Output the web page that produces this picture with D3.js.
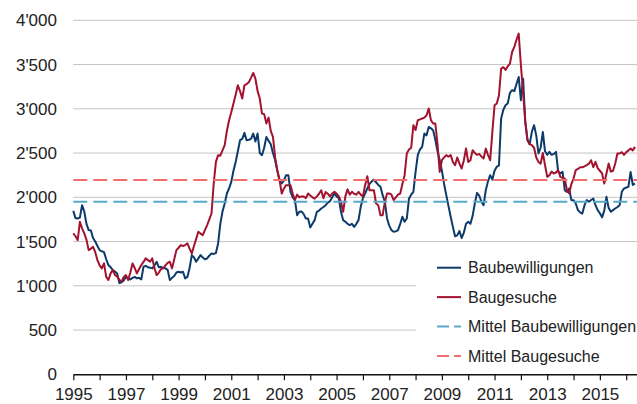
<!DOCTYPE html>
<html>
<head>
<meta charset="utf-8">
<script src="https://cdn.jsdelivr.net/npm/d3@7/dist/d3.min.js"></script>
<style>
    body { margin: 0; background: #fff; }
    svg { display: block; font-family: "Liberation Sans", Arial, sans-serif; }
    .tick-label { fill: #222; font-size: 17px; }
    .legend-label { fill: #222; font-size: 16px; }
</style>
</head>
<body>
<div id="chart-area"></div>
<script>
// monthly values from Jan 1995, one line per year
const baubewilligungen = [
    1847, 1765, 1760, 1770, 1911, 1840, 1700, 1630, 1625, 1540, 1500, 1450,
    1403, 1390, 1380, 1300, 1234, 1210, 1178, 1160, 1140, 1030, 1040, 1060,
    1102, 1085, 1072, 1090, 1100, 1084, 1090, 1072, 1215, 1226, 1210, 1205,
    1197, 1230, 1271, 1209, 1215, 1200, 1197, 1180, 1065, 1090, 1110, 1150,
    1159, 1150, 1159, 1084, 1100, 1200, 1347, 1320, 1271, 1310, 1347, 1320,
    1300, 1309, 1340, 1366, 1360, 1370, 1479, 1700, 1840, 1930, 2043, 2100,
    2174, 2300, 2400, 2520, 2645, 2660, 2728, 2645, 2650, 2660, 2720, 2630,
    2720, 2500, 2476, 2560, 2682, 2640, 2600, 2500, 2419, 2300, 2193, 2156,
    2190, 2250, 2250, 2060, 2000, 1967, 1798, 1836, 1840, 1810, 1760, 1760,
    1659, 1700, 1742, 1836, 1850, 1873, 1890, 1911, 1940, 1956, 2000, 2043,
    2010, 1990, 1836, 1742, 1723, 1700, 1686, 1700, 1666, 1700, 1742, 1892,
    1990, 2043, 2100, 2150, 2180, 2200, 2170, 2140, 2118, 2024, 1950, 1761,
    1680, 1629, 1610, 1615, 1629, 1700, 1780, 1723, 1760, 1987, 2030, 2062,
    2287, 2476, 2540, 2570, 2720, 2700, 2795, 2780, 2757, 2650, 2520, 2419,
    2300, 2150, 2024, 1900, 1780, 1666, 1560, 1570, 1620, 1540, 1600, 1700,
    1723, 1700, 1790, 1930, 2050, 2020, 1950, 1911, 2080, 2180, 2250, 2200,
    2300, 2344, 2360, 2890, 2990, 3040, 3060, 3180, 3210, 3200, 3280, 3360,
    3097, 3341, 2853, 2650, 2600, 2740, 2815, 2700, 2495, 2560, 2739, 2520,
    2480, 2513, 2480, 2490, 2513, 2287, 2270, 2287, 2080, 2060, 2100, 1968,
    1968, 1930, 1855, 1830, 1817, 1911, 1968, 1950, 1970, 1987, 1911, 1855,
    1820, 1773, 1850, 2005, 1880, 1836, 1855, 1873, 1890, 1911, 2062, 2100,
    2110, 2118, 2287, 2140, 2156
];

const baugesuche = [
    1592, 1560, 1517, 1723, 1650, 1592, 1520, 1403, 1420, 1440, 1380, 1290,
    1230, 1197, 1253, 1100, 1065, 1140, 1178, 1120, 1103, 1070, 1046, 1100,
    1121, 1065, 1150, 1253, 1200, 1140, 1190, 1234, 1270, 1310, 1290, 1272,
    1310, 1200, 1121, 1150, 1190, 1197, 1230, 1260, 1272, 1197, 1300, 1403,
    1430, 1460, 1450, 1460, 1480, 1420, 1366, 1450, 1530, 1610, 1590, 1573,
    1630, 1686, 1750, 1817, 2156, 2400, 2476, 2470, 2530, 2589, 2750, 2871,
    2960, 3059, 3160, 3266, 3200, 3116, 3266, 3280, 3300, 3350, 3405, 3340,
    3200, 3116, 2946, 2940, 2834, 2900, 2750, 2682, 2450, 2300, 2193, 2043,
    2100, 2137, 2137, 2137, 2043, 1968, 2030, 2000, 2010, 2010, 1990, 2043,
    2020, 2000, 1985, 2010, 2040, 2080, 1990, 2060, 2040, 2010, 2043, 2062,
    2040, 2010, 1950, 1836, 2010, 2090, 2030, 2062, 2040, 2030, 2062, 2030,
    2010, 2137, 2238, 2080, 2080, 2080, 1930, 1911, 1798, 1798, 1948, 2043,
    2043, 2030, 1968, 2000, 2030, 2043, 2150, 2250, 2495, 2540, 2560, 2815,
    2760, 2871, 2880, 2890, 2900, 2927, 3003, 2871, 2834, 2834, 2600, 2287,
    2419, 2450, 2476, 2460, 2476, 2400, 2363, 2450, 2380, 2325, 2419, 2551,
    2400, 2419, 2532, 2500, 2480, 2490, 2460, 2438, 2550, 2480, 2419, 2739,
    3040, 3060, 3150, 3454, 3470, 3440, 3480, 3511, 3642, 3700, 3780, 3850,
    3492, 3191, 2853, 2645, 2600, 2589, 2560, 2450, 2400, 2380, 2500, 2363,
    2231, 2250, 2290, 2269, 2280, 2306, 2230, 2220, 2210, 2080, 2043, 2150,
    2212, 2306, 2320, 2340, 2340, 2350, 2363, 2380, 2419, 2340, 2400, 2330,
    2300, 2269, 2156, 2269, 2382, 2290, 2300, 2382, 2495, 2495, 2510, 2480,
    2510, 2530, 2551, 2530, 2570
];

const mittelBaubewilligungen = 1950;
const mittelBaugesuche = 2195;

const yTicks = [0, 500, 1000, 1500, 2000, 2500, 3000, 3500, 4000];
const yearTicks = d3.range(1995, 2017);
const legendItems = ["Baubewilligungen", "Baugesuche", "Mittel Baubewilligungen", "Mittel Baugesuche"];

const colors = {
    bewilligungen: "#0c3b6b",
    gesuche: "#a3122f",
    mittelBew: "#5aa9c9",
    mittelGes: "#ef6f6c"
};

function drawChart() {
    const width = 637, height = 404;
    const margin = { top: 20.3, right: 0, bottom: 29.7, left: 73.3 };

    const svg = d3.select('#chart-area').append('svg')
        .attr('width', width)
        .attr('height', height);

    const x = d3.scaleLinear().domain([1995, 2016.41]).range([margin.left, width - margin.right]);
    const y = d3.scaleLinear().domain([0, 4000]).range([height - margin.bottom, margin.top]);

    // gridlines
    svg.selectAll('.grid')
        .data(yTicks.filter(d => d > 0))
        .enter().append('line')
        .attr('class', 'grid')
        .attr('x1', margin.left)
        .attr('x2', width - margin.right)
        .attr('y1', d => y(d))
        .attr('y2', d => y(d))
        .attr('stroke', '#c4c4c4')
        .attr('stroke-width', 1);

    // y labels
    svg.selectAll('.y-label')
        .data(yTicks)
        .enter().append('text')
        .attr('class', 'tick-label')
        .attr('x', 57)
        .attr('y', d => y(d))
        .attr('dy', '.35em')
        .attr('text-anchor', 'end')
        .text(d => d3.format(',')(d).replace(',', "'"));

    // legend background hides the lower gridlines
    svg.append('rect')
        .attr('x', 416)
        .attr('y', 248)
        .attr('width', width - 416)
        .attr('height', 122)
        .attr('fill', '#fff');

    const line = d3.line()
        .x((d, i) => x(1995 + i / 12))
        .y(d => y(d));

    svg.append('path')
        .datum(baubewilligungen)
        .attr('fill', 'none')
        .attr('stroke', colors.bewilligungen)
        .attr('stroke-width', 2)
        .attr('stroke-linejoin', 'round')
        .attr('d', line);

    svg.append('path')
        .datum(baugesuche)
        .attr('fill', 'none')
        .attr('stroke', colors.gesuche)
        .attr('stroke-width', 2)
        .attr('stroke-linejoin', 'round')
        .attr('d', line);

    // mean lines
    [[mittelBaubewilligungen, colors.mittelBew], [mittelBaugesuche, colors.mittelGes]].forEach(([v, c]) => {
        svg.append('line')
            .attr('x1', margin.left)
            .attr('x2', width - margin.right)
            .attr('y1', y(v))
            .attr('y2', y(v))
            .attr('stroke', c)
            .attr('stroke-width', 2)
            .attr('stroke-dasharray', '14,6');
    });

    // x axis
    const xAxis = d3.axisBottom(x)
        .tickValues(yearTicks)
        .tickFormat(d => d % 2 === 1 ? d : '')
        .tickSize(6)
        .tickSizeOuter(0)
        .tickPadding(8);

    const gx = svg.append('g')
        .attr('transform', `translate(0,${y(0)})`)
        .call(xAxis);
    gx.select('.domain').attr('stroke', '#111').attr('stroke-width', 1.5);
    gx.selectAll('.tick line').attr('stroke', '#111').attr('stroke-width', 1.2);
    gx.selectAll('.tick text')
        .attr('class', 'tick-label')
        .attr('font-family', null)
        .attr('font-size', null);
    gx.attr('font-family', null).attr('font-size', null);

    // legend
    const legendStyles = [
        { color: colors.bewilligungen, dash: null },
        { color: colors.gesuche, dash: null },
        { color: colors.mittelBew, dash: '12,5' },
        { color: colors.mittelGes, dash: '12,5' }
    ];

    const legend = svg.selectAll('.legend')
        .data(legendItems)
        .enter().append('g')
        .attr('class', 'legend')
        .attr('transform', (d, i) => `translate(437,${267.7 + i * 29.4})`);

    legend.append('line')
        .attr('x1', 0)
        .attr('x2', 24)
        .attr('stroke', (d, i) => legendStyles[i].color)
        .attr('stroke-width', 2)
        .attr('stroke-dasharray', (d, i) => legendStyles[i].dash);

    legend.append('text')
        .attr('class', 'legend-label')
        .attr('x', 31)
        .attr('dy', '.35em')
        .text(d => d);
}

drawChart();
</script>
</body>
</html>
